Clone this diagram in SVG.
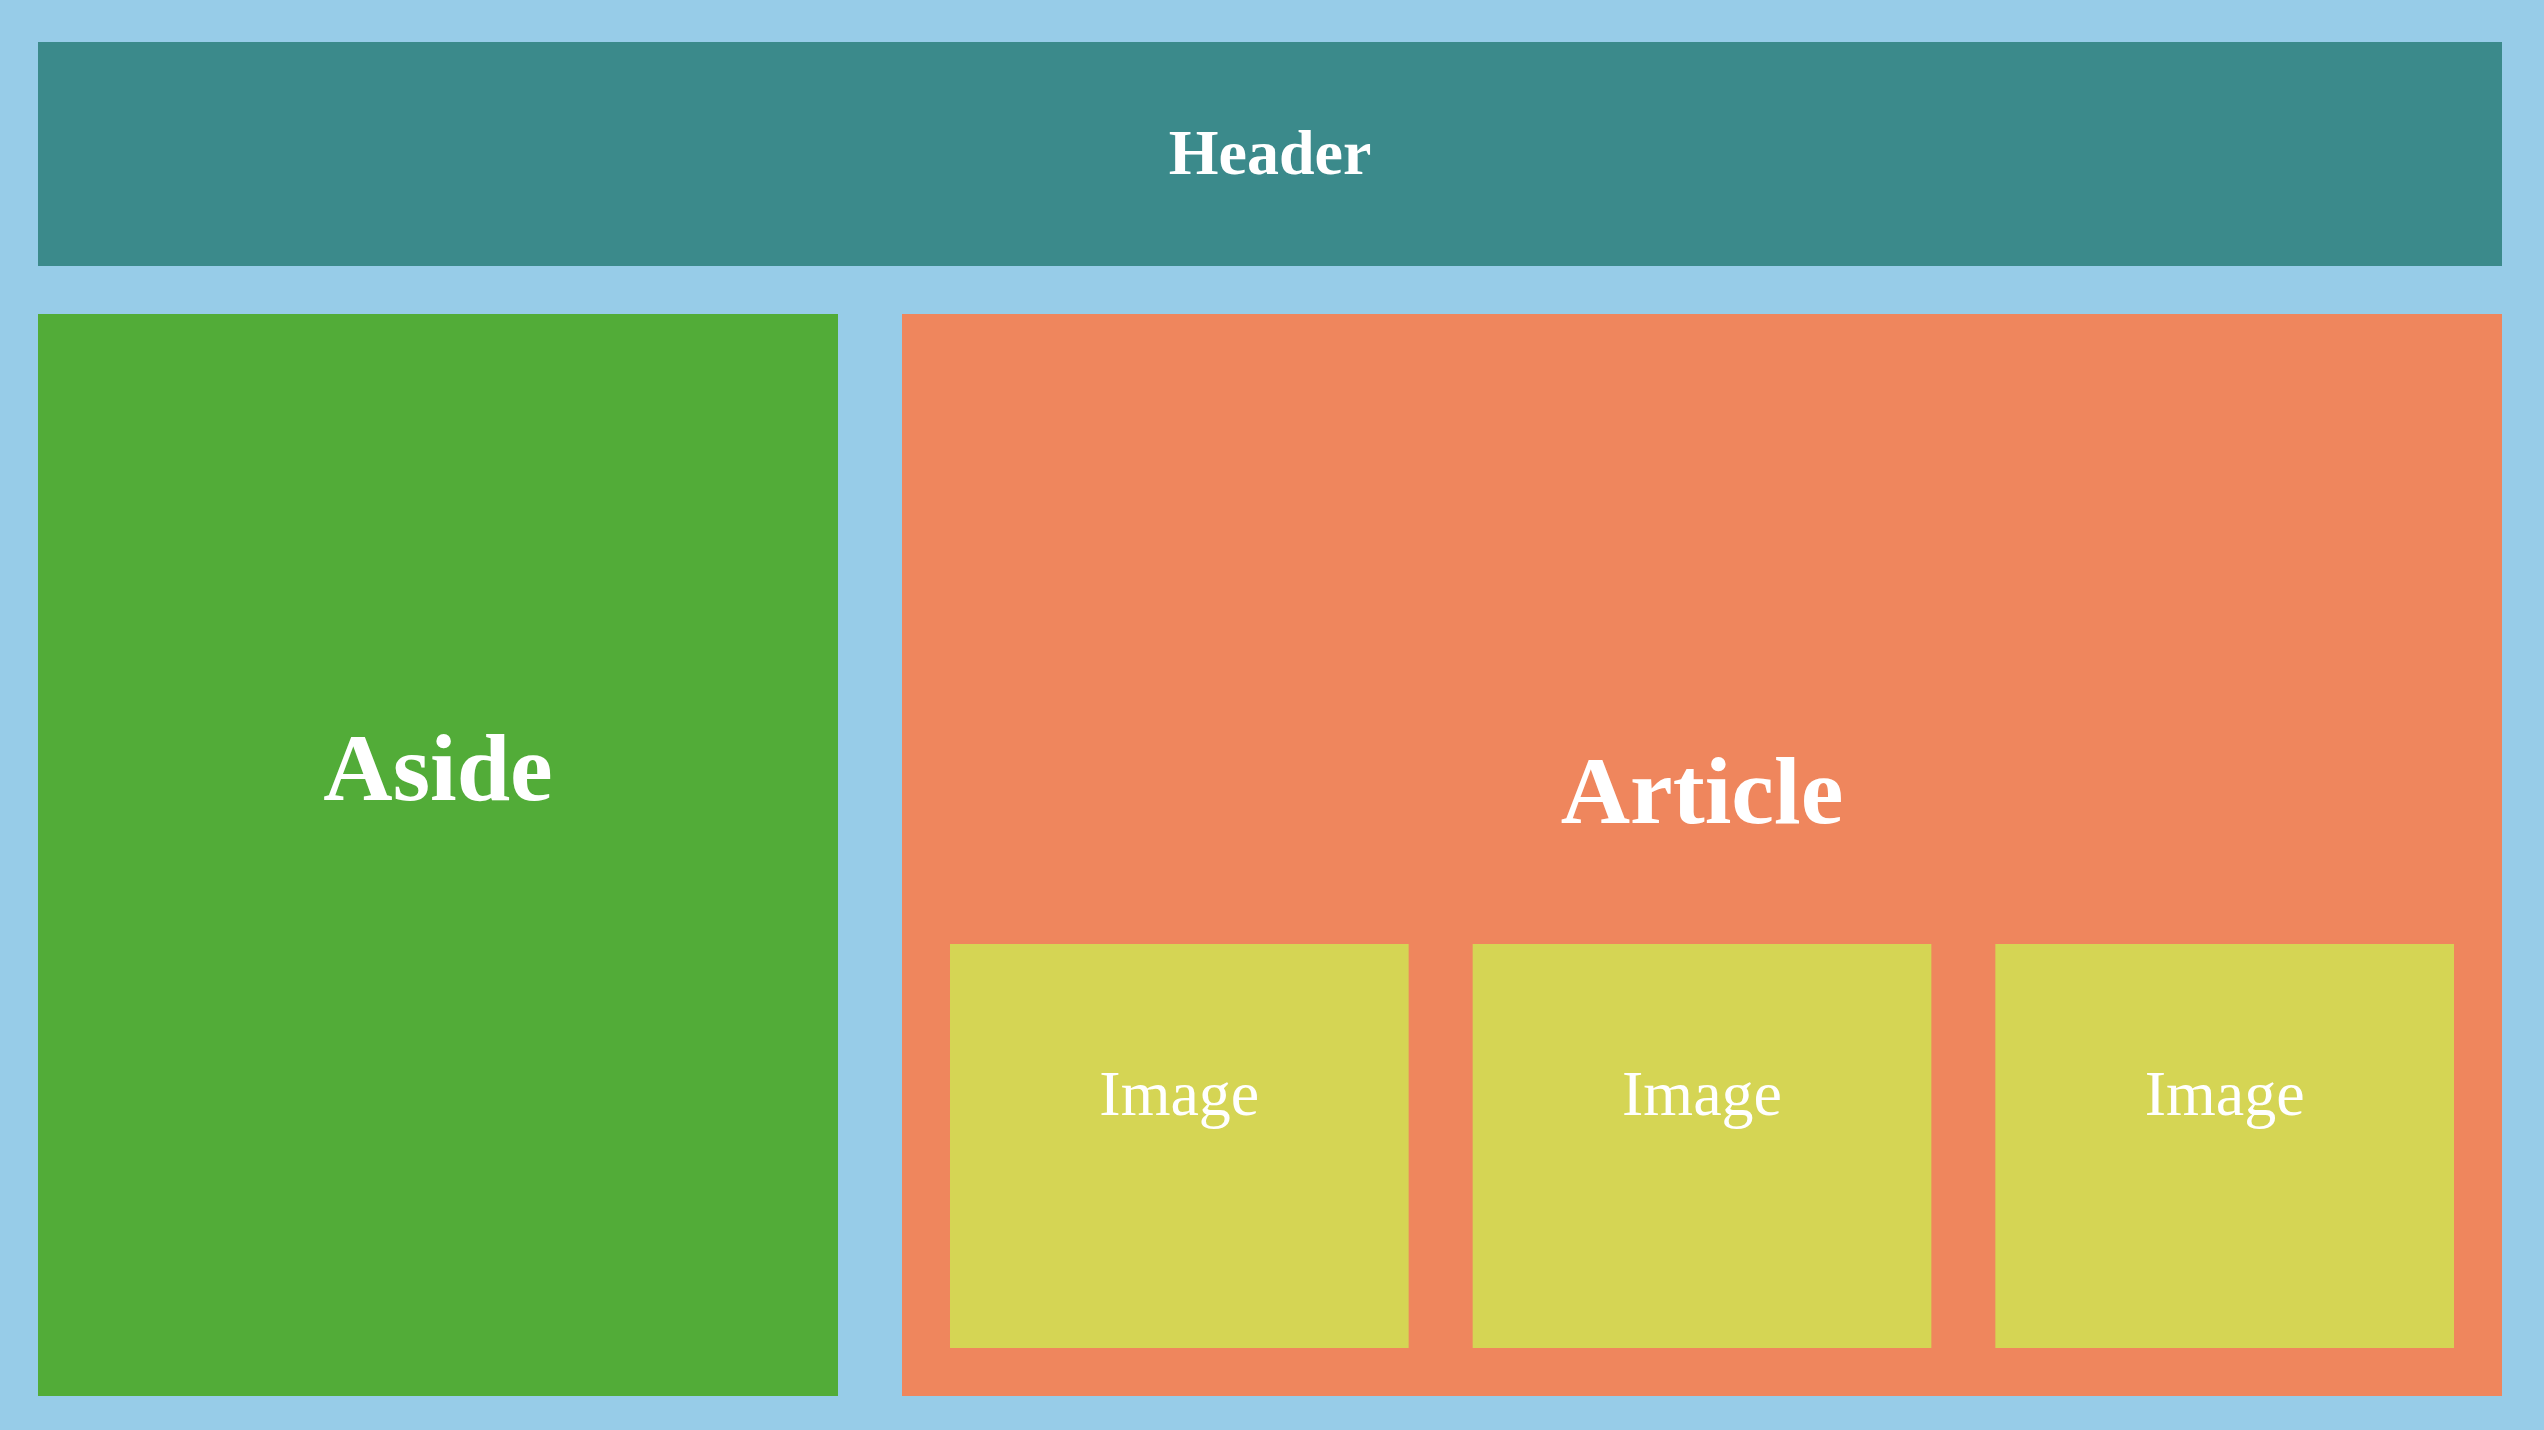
<svg xmlns="http://www.w3.org/2000/svg" width="2544" height="1430" viewBox="0 0 2544 1430">
<style>
text{font-family:"Liberation Serif","Times New Roman",serif;fill:#ffffff;text-anchor:middle}
.b{font-weight:bold}
.img{fill:#d5d554}
</style>
<rect width="2544" height="1430" fill="#97cce8"/>
<g id="header">
<rect x="38" y="42" width="2464" height="224" fill="#3b8a8b"/>
<text class="b" x="1270" y="174" font-size="64">Header</text>
</g>
<g id="aside">
<rect x="38" y="314" width="800" height="1082" fill="#52ac38"/>
<text class="b" x="438" y="800" font-size="96">Aside</text>
</g>
<g id="article">
<rect x="902" y="314" width="1600" height="1082" fill="#ef865d"/>
<text class="b" x="1702" y="823" font-size="96">Article</text>
</g>
<g id="image1">
<rect class="img" x="950" y="944" width="458.67" height="404"/>
<text x="1179.3" y="1115" font-size="64">Image</text>
</g>
<g id="image2">
<rect class="img" x="1472.67" y="944" width="458.67" height="404"/>
<text x="1702" y="1115" font-size="64">Image</text>
</g>
<g id="image3">
<rect class="img" x="1995.33" y="944" width="458.67" height="404"/>
<text x="2224.7" y="1115" font-size="64">Image</text>
</g>
<g id="connectors"/>
</svg>
